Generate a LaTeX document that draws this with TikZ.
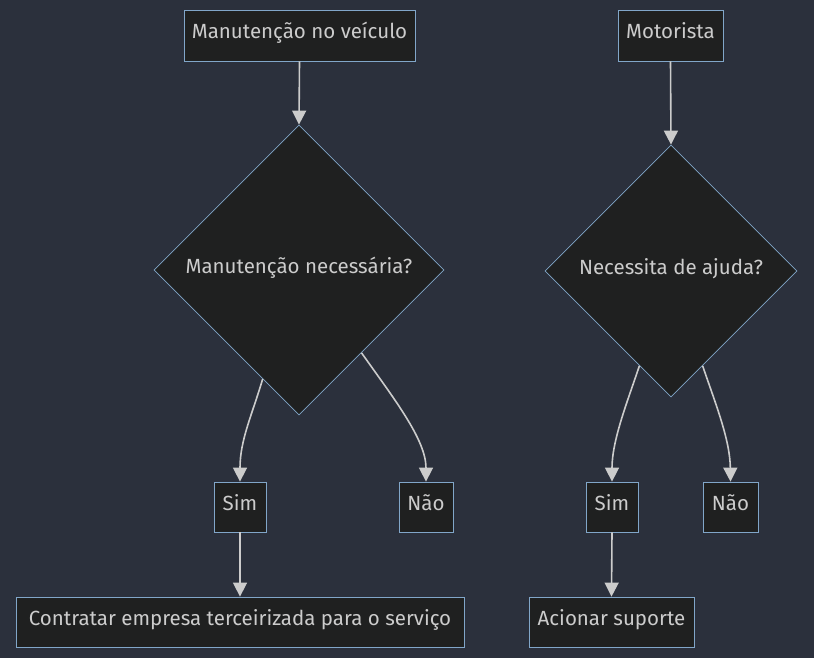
\documentclass[tikz,border=0pt]{standalone}
\usepackage{fontspec}
\setmainfont{Fira Sans}
\usetikzlibrary{positioning, calc, arrows.meta, shapes.geometric}
\definecolor{bgc}{HTML}{2B303C}
\definecolor{boxfill}{HTML}{1F2020}
\definecolor{boxline}{HTML}{81A6C9}
\definecolor{txt}{HTML}{CCCCCC}
\begin{document}
\begin{tikzpicture}[x=1pt,y=-1pt,font=\fontsize{20.5}{24}\selectfont,
box/.style={draw=boxline, fill=boxfill, text=txt, line width=0.8pt, minimum height=51pt, inner xsep=3pt, text height=14pt, text depth=7pt},
dia/.style={shape=diamond, draw=boxline, fill=boxfill, text=txt, line width=0.8pt, inner sep=0pt, text height=14pt, text depth=7pt},
flow/.style={draw=txt, line width=1.6pt, -{Triangle[length=14pt,width=14pt]}}]
\useasboundingbox (0,0) rectangle (814,658);
\fill[bgc] (0,0) rectangle (814,658);
\node[box, minimum width=231pt] (m1) at (299.5,35.5) {Manutenção no veículo};
\node[box, minimum width=105pt] (m2) at (670.5,35.5) {Motorista};
\node[dia, minimum width=290pt, minimum height=290pt] (d1) at (299,270) {Manutenção necessária?};
\node[dia, minimum width=252pt, minimum height=252pt] (d2) at (671,271) {Necessita de ajuda?};
\node[box, minimum width=52pt, minimum height=50pt] (s1) at (240,507) {Sim};
\node[box, minimum width=54pt, minimum height=50pt] (n1) at (426,507) {Não};
\node[box, minimum width=52pt, minimum height=50pt] (s2) at (612,507) {Sim};
\node[box, minimum width=55pt, minimum height=50pt] (n2) at (730.5,507) {Não};
\node[box, minimum width=448pt, minimum height=50pt] (c1) at (240,622) {Contratar empresa terceirizada para o serviço};
\node[box, minimum width=165pt, minimum height=50pt] (c2) at (611.5,622) {Acionar suporte};
% ligacoes
\draw[flow] (m1.south) -- (d1.north); \draw[flow] (m2.south) -- (d2.north);
\draw[flow] ($(d1.south)!0.25!(d1.west)$) .. controls (252,415) and (240,440) .. (s1.north);
\draw[flow] ($(d1.south)!0.43!(d1.east)$) .. controls (395,400) and (426,440) .. (n1.north);
\draw[flow] ($(d2.south)!0.25!(d2.west)$) .. controls (628,400) and (612,440) .. (s2.north);
\draw[flow] ($(d2.south)!0.25!(d2.east)$) .. controls (716,405) and (730,440) .. (n2.north);
\draw[flow] (s1.south) -- (c1.north); \draw[flow] (s2.south) -- (c2.north);
\end{tikzpicture}
\end{document}
